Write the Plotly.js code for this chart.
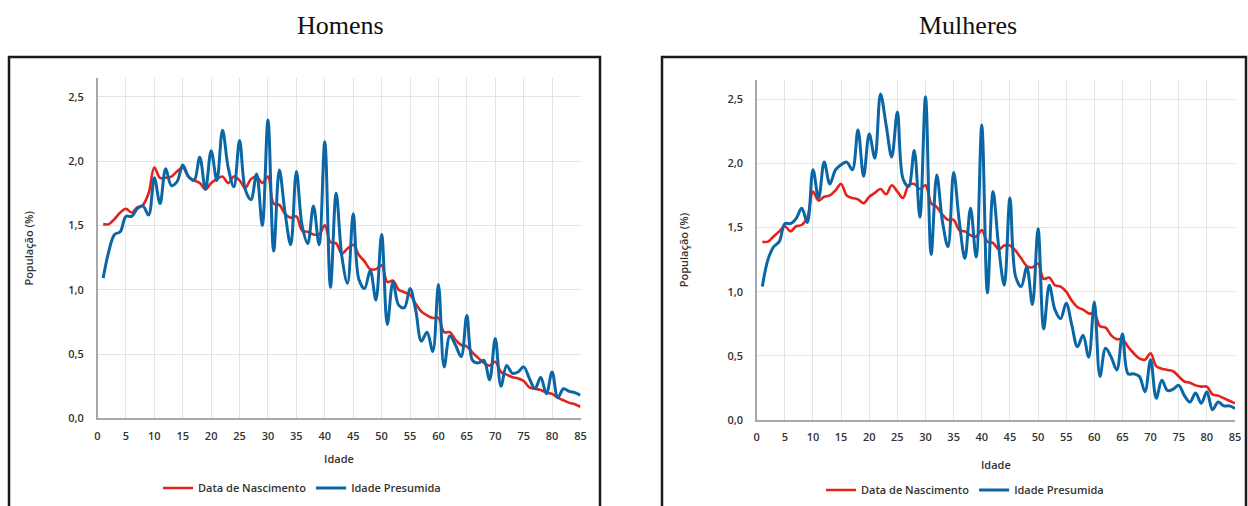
<!DOCTYPE html>
<html>
<head>
<meta charset="utf-8">
<script src="https://cdn.plot.ly/plotly-3.0.1.min.js"></script>
<style>
  html, body { margin: 0; padding: 0; background: #ffffff; }
  #chart { width: 1248px; height: 506px; }
</style>
</head>
<body>
<div id="chart"></div>
<script>
// Idade (anos)
const idades = [
  1, 2, 3, 4, 5, 6, 7, 8, 9, 10, 11, 12, 13, 14, 15, 16, 17, 18, 19, 20,
  21, 22, 23, 24, 25, 26, 27, 28, 29, 30, 31, 32, 33, 34, 35, 36, 37, 38, 39, 40,
  41, 42, 43, 44, 45, 46, 47, 48, 49, 50, 51, 52, 53, 54, 55, 56, 57, 58, 59, 60,
  61, 62, 63, 64, 65, 66, 67, 68, 69, 70, 71, 72, 73, 74, 75, 76, 77, 78, 79, 80,
  81, 82, 83, 84, 85
];

// Homens – população (%) por idade
const homensNascimento = [
  1.51, 1.51, 1.55, 1.60, 1.63, 1.60, 1.64, 1.66, 1.75, 1.95,
  1.87, 1.87, 1.88, 1.92, 1.95, 1.88, 1.85, 1.83, 1.78, 1.83,
  1.86, 1.88, 1.83, 1.88, 1.85, 1.79, 1.86, 1.88, 1.83, 1.88,
  1.67, 1.66, 1.59, 1.56, 1.57, 1.46, 1.45, 1.43, 1.43, 1.50,
  1.37, 1.36, 1.28, 1.32, 1.35, 1.27, 1.22, 1.16, 1.16, 1.19,
  1.06, 1.07, 1.00, 0.98, 0.96, 0.89, 0.83, 0.80, 0.78, 0.78,
  0.67, 0.67, 0.61, 0.57, 0.56, 0.51, 0.47, 0.43, 0.41, 0.44,
  0.36, 0.34, 0.32, 0.31, 0.29, 0.24, 0.23, 0.22, 0.20, 0.19,
  0.16, 0.14, 0.12, 0.11, 0.09
];
const homensPresumida = [
  1.09, 1.30, 1.43, 1.45, 1.57, 1.57, 1.63, 1.65, 1.58, 1.87,
  1.67, 1.94, 1.81, 1.84, 1.97, 1.88, 1.85, 2.03, 1.78, 2.08,
  1.85, 2.24, 1.95, 1.80, 2.16, 1.78, 1.70, 1.90, 1.50, 2.32,
  1.30, 1.93, 1.60, 1.35, 1.92, 1.50, 1.36, 1.65, 1.35, 2.15,
  1.02, 1.75, 1.26, 1.05, 1.59, 1.08, 1.01, 1.15, 0.92, 1.43,
  0.73, 1.06, 0.88, 0.86, 1.01, 0.84, 0.60, 0.67, 0.52, 1.04,
  0.40, 0.64, 0.57, 0.48, 0.80, 0.45, 0.43, 0.45, 0.30, 0.62,
  0.25, 0.41, 0.35, 0.36, 0.40, 0.31, 0.23, 0.32, 0.19, 0.36,
  0.16, 0.23, 0.21, 0.20, 0.18
];

// Mulheres – população (%) por idade
const mulheresNascimento = [
  1.39, 1.39, 1.43, 1.47, 1.51, 1.47, 1.51, 1.52, 1.58, 1.78,
  1.71, 1.74, 1.75, 1.79, 1.84, 1.75, 1.73, 1.72, 1.69, 1.74,
  1.77, 1.80, 1.76, 1.83, 1.78, 1.73, 1.83, 1.84, 1.80, 1.83,
  1.69, 1.66, 1.60, 1.56, 1.56, 1.48, 1.47, 1.44, 1.43, 1.48,
  1.39, 1.38, 1.33, 1.36, 1.36, 1.32, 1.26, 1.20, 1.19, 1.22,
  1.10, 1.11, 1.05, 1.04, 1.00, 0.93, 0.88, 0.86, 0.83, 0.83,
  0.73, 0.72, 0.66, 0.63, 0.63, 0.57, 0.52, 0.48, 0.47, 0.52,
  0.42, 0.40, 0.39, 0.38, 0.34, 0.30, 0.29, 0.27, 0.26, 0.26,
  0.20, 0.19, 0.17, 0.15, 0.13
];
const mulheresPresumida = [
  1.04, 1.25, 1.35, 1.39, 1.53, 1.53, 1.57, 1.65, 1.54, 1.95,
  1.73, 2.01, 1.84, 1.95, 1.99, 2.01, 1.95, 2.26, 1.90, 2.23,
  2.04, 2.54, 2.30, 2.05, 2.40, 1.88, 1.82, 2.10, 1.58, 2.52,
  1.29, 1.91, 1.55, 1.35, 1.93, 1.55, 1.26, 1.65, 1.27, 2.30,
  0.99, 1.78, 1.35, 1.05, 1.73, 1.12, 1.04, 1.19, 0.90, 1.49,
  0.71, 1.05, 0.86, 0.79, 0.91, 0.74, 0.57, 0.66, 0.49, 0.92,
  0.34, 0.56, 0.49, 0.39, 0.67, 0.36, 0.36, 0.34, 0.22, 0.47,
  0.17, 0.31, 0.23, 0.24, 0.27, 0.19, 0.14, 0.21, 0.13, 0.22,
  0.08, 0.14, 0.11, 0.11, 0.09
];

const nomesSeries = ['Data de Nascimento', 'Idade Presumida'];
const titulosPaineis = ['Homens', 'Mulheres'];
const tituloX = 'Idade';
const tituloY = 'População (%)';

const VERMELHO = '#e3221c';
const AZUL = '#0b66a6';
const W = 1248, H = 506;

function serie(y, nome, cor, xa, ya, legenda, largura) {
  return {
    type: 'scatter', mode: 'lines',
    x: idades, y: y, name: nome,
    xaxis: xa, yaxis: ya, legend: legenda,
    line: { color: cor, width: largura, shape: 'spline', smoothing: 1 },
    hoverinfo: 'x+y+name'
  };
}

const data = [
  serie(homensNascimento, nomesSeries[0], VERMELHO, 'x', 'y', 'legend', 2.6),
  serie(homensPresumida, nomesSeries[1], AZUL, 'x', 'y', 'legend', 3),
  serie(mulheresNascimento, nomesSeries[0], VERMELHO, 'x2', 'y2', 'legend2', 2.6),
  serie(mulheresPresumida, nomesSeries[1], AZUL, 'x2', 'y2', 'legend2', 3)
];

const fonteEixo = { family: 'Open Sans, Liberation Sans, sans-serif', size: 11, color: '#333333', weight: 600 };

function eixoX(dominio, standoff) {
  return {
    domain: dominio, range: [0, 85], dtick: 5, tick0: 0,
    showgrid: true, gridcolor: '#e4e4e4', gridwidth: 1,
    zeroline: false, showline: true, linecolor: '#a8a8a8', linewidth: 2,
    ticks: '', ticklabelstandoff: 6,
    tickfont: fonteEixo,
    title: { text: tituloX, font: fonteEixo, standoff: standoff },
    fixedrange: true
  };
}
function eixoY(dominio, ancora, topo, standoff) {
  return {
    domain: dominio, range: [0, topo], dtick: 0.5, tick0: 0,
    tickformat: '.1f',
    showgrid: true, gridcolor: '#e4e4e4', gridwidth: 1,
    zeroline: false, showline: true, linecolor: '#a8a8a8', linewidth: 1.5,
    ticks: '', ticklabelstandoff: 10,
    tickfont: fonteEixo,
    title: { text: tituloY, font: fonteEixo, standoff: standoff },
    anchor: ancora, fixedrange: true
  };
}

const fonteLegenda = { family: 'Open Sans, Liberation Sans, sans-serif', size: 11, color: '#333333', weight: 600 };
const fonteTitulo = { family: 'Liberation Serif, Times New Roman, serif', size: 26, color: '#111111' };

const layout = {
  width: W, height: H,
  margin: { l: 0, r: 0, t: 0, b: 0 },
  paper_bgcolor: '#ffffff', plot_bgcolor: '#ffffff',
  separators: ',.',
  showlegend: true,
  xaxis: Object.assign(eixoX([97.5 / W, 580.5 / W], 14), { anchor: 'y' }),
  yaxis: eixoY([1 - 418.3 / H, 1 - 78.3 / H], 'x', 2.644, 32),
  xaxis2: Object.assign(eixoX([756.7 / W, 1235 / W], 18), { anchor: 'y2' }),
  yaxis2: eixoY([1 - 420 / H, 1 - 80 / H], 'x2', 2.65, 36),
  legend: {
    orientation: 'h', x: 302 / W, xanchor: 'center', y: 1 - 488 / H, yanchor: 'middle',
    font: fonteLegenda, bgcolor: 'rgba(0,0,0,0)', itemwidth: 30, tracegroupgap: 0
  },
  legend2: {
    orientation: 'h', x: 965 / W, xanchor: 'center', y: 1 - 490 / H, yanchor: 'middle',
    font: fonteLegenda, bgcolor: 'rgba(0,0,0,0)', itemwidth: 30, tracegroupgap: 0
  },
  annotations: [
    { text: titulosPaineis[0], xref: 'paper', yref: 'paper', x: 341 / W, y: 1 - 25 / H,
      xanchor: 'center', yanchor: 'middle', showarrow: false, font: fonteTitulo },
    { text: titulosPaineis[1], xref: 'paper', yref: 'paper', x: 968 / W, y: 1 - 25 / H,
      xanchor: 'center', yanchor: 'middle', showarrow: false, font: fonteTitulo }
  ],
  shapes: [
    { type: 'rect', xref: 'paper', yref: 'paper',
      x0: 9 / W, x1: 600 / W, y0: -0.05, y1: 1 - 57 / H,
      line: { color: '#1a1a1a', width: 2.5 }, fillcolor: 'rgba(0,0,0,0)', layer: 'below' },
    { type: 'rect', xref: 'paper', yref: 'paper',
      x0: 662 / W, x1: 1246 / W, y0: -0.05, y1: 1 - 57 / H,
      line: { color: '#1a1a1a', width: 2.5 }, fillcolor: 'rgba(0,0,0,0)', layer: 'below' }
  ]
};

Plotly.newPlot('chart', data, layout, { displayModeBar: false, staticPlot: true });
</script>
</body>
</html>
